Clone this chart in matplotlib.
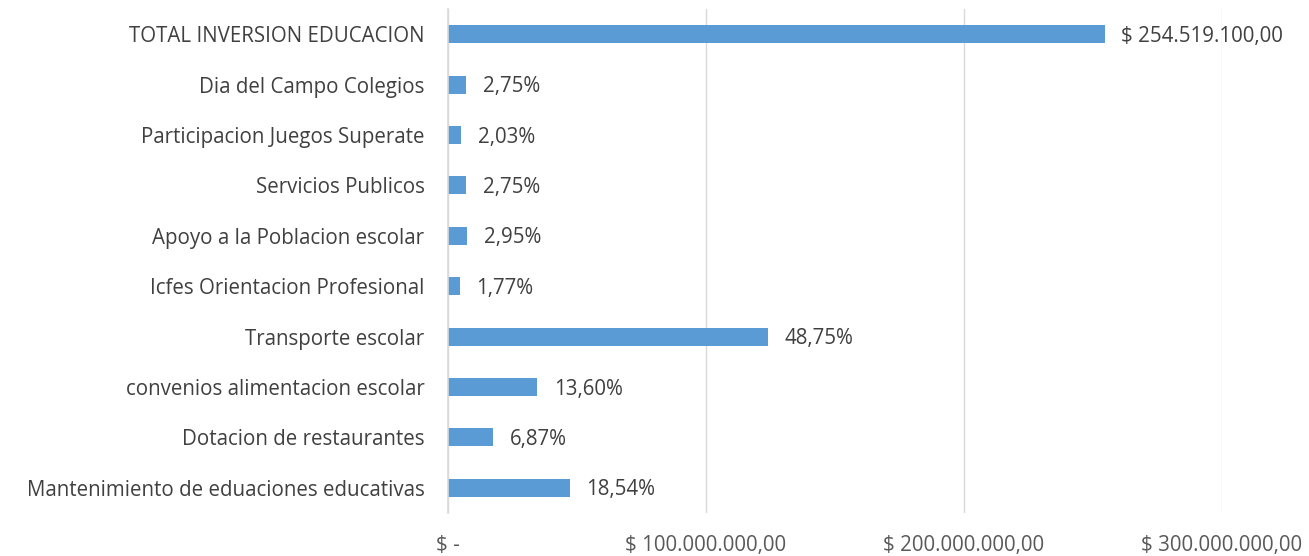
import matplotlib
matplotlib.use("Agg")
import matplotlib.pyplot as plt
from matplotlib.ticker import FixedLocator

categories = [
    "Mantenimiento de eduaciones educativas",
    "Dotacion de restaurantes",
    "convenios alimentacion escolar",
    "Transporte escolar",
    "Icfes Orientacion Profesional",
    "Apoyo a la Poblacion escolar",
    "Servicios Publicos",
    "Participacion Juegos Superate",
    "Dia del Campo Colegios",
    "TOTAL INVERSION EDUCACION",
]
values = [47187841, 17485462, 34614598, 124078061, 4504988,
          7508313, 6999275, 5166738, 6999275, 254519100]
data_labels = ["18,54%", "6,87%", "13,60%", "48,75%", "1,77%",
               "2,95%", "2,75%", "2,03%", "2,75%", "$ 254.519.100,00"]
tick_values = [0, 100000000, 200000000, 300000000]
tick_labels = ["$ -", "$ 100.000.000,00", "$ 200.000.000,00", "$ 300.000.000,00"]

plt.rcParams['font.family'] = ['Open Sans', 'DejaVu Sans']

fig = plt.figure(figsize=(13.09, 5.56), dpi=100)
ax = fig.add_axes([448/1309, 1 - 513/556, (1222-448)/1309, (513-9)/556])

y = list(range(len(categories)))
ax.barh(y, values, height=0.36, color="#5B9BD5", zorder=3)
for yi, v, lab in zip(y, values, data_labels):
    ax.annotate(lab, xy=(v, yi), xytext=(12, -1.5), textcoords="offset points",
                va="center", ha="left", fontsize=14.8, color="#404040", zorder=4)

ax.set_xlim(0, 300000000)
ax.set_ylim(-0.5, len(categories) - 0.5)
ax.set_yticks(y)
ax.set_yticklabels(categories, fontsize=14.8, color="#404040")
ax.xaxis.set_major_locator(FixedLocator(tick_values))
ax.set_xticklabels(tick_labels, fontsize=14.8, color="#595959")
ax.tick_params(axis="y", length=0, pad=17)
ax.tick_params(axis="x", length=0, pad=16)
ax.grid(axis="x", color="#D9D9D9", linewidth=1, zorder=0)
for s in ["top", "right", "bottom"]:
    ax.spines[s].set_visible(False)
ax.spines["left"].set_color("#D9D9D9")
ax.spines["left"].set_linewidth(1.2)
ax.spines["left"].set_zorder(5)

fig.savefig("out.png", dpi=100)
